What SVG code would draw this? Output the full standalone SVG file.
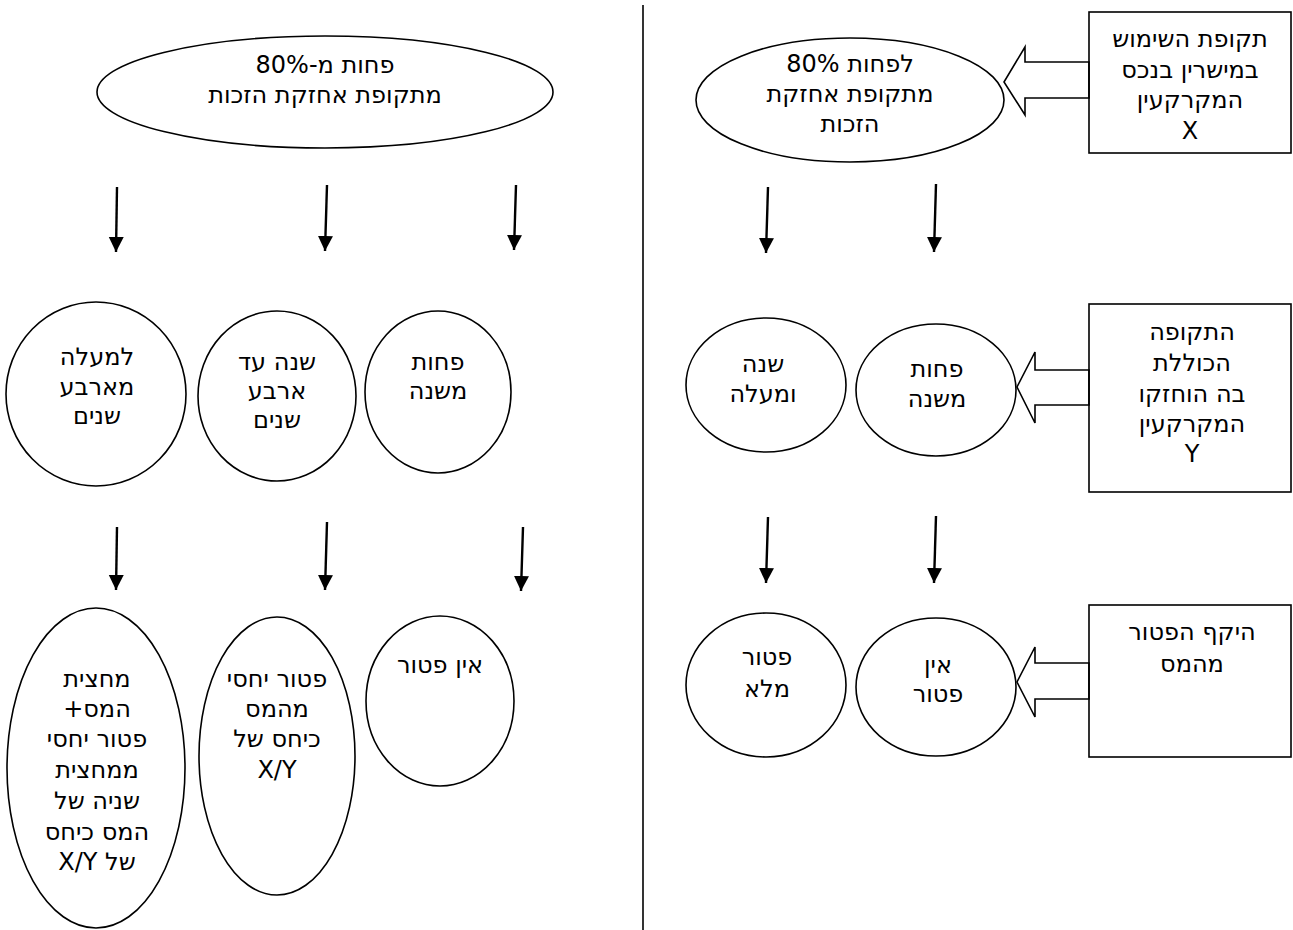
<svg xmlns="http://www.w3.org/2000/svg" width="1293" height="930" viewBox="0 0 1293 930">
<style>
.s{fill:none;stroke:#000;stroke-width:1.6}
.t{font-family:"DejaVu Sans","Noto Sans",sans-serif;font-size:24px;fill:#000;text-anchor:middle;direction:rtl;unicode-bidi:embed}
.a{fill:none;stroke:#000;stroke-width:2.4}
.b{fill:none;stroke:#000;stroke-width:1.6;stroke-linejoin:miter}
</style>
<defs>
<marker id="ah" markerUnits="userSpaceOnUse" markerWidth="16" markerHeight="16" refX="15" refY="7.5" orient="auto" viewBox="0 0 16 16">
<path d="M0,0 L15,7.5 L0,15 z" fill="#000"/>
</marker>
</defs>
<rect width="1293" height="930" fill="#fff"/>
<line x1="643" y1="5" x2="643" y2="930" stroke="#000" stroke-width="1.6"/>

<g id="connectors">
<path class="a" d="M117,187 L116,252" marker-end="url(#ah)"/>
<path class="a" d="M327,185 L325,251" marker-end="url(#ah)"/>
<path class="a" d="M516,185 L514,250" marker-end="url(#ah)"/>
<path class="a" d="M117,527 L116,590" marker-end="url(#ah)"/>
<path class="a" d="M327,522 L325,590" marker-end="url(#ah)"/>
<path class="a" d="M523,527 L521,591" marker-end="url(#ah)"/>
<path class="a" d="M768,187 L766,253" marker-end="url(#ah)"/>
<path class="a" d="M936,184 L934,252" marker-end="url(#ah)"/>
<path class="a" d="M768,517 L766,583" marker-end="url(#ah)"/>
<path class="a" d="M936,516 L934,583" marker-end="url(#ah)"/>
<polygon class="b" points="1089,62 1025,62 1025,47 1004,82 1025,115 1025,98 1089,98"/>
<polygon class="b" points="1089,370 1035,370 1035,352 1017,387 1035,423 1035,405 1089,405"/>
<polygon class="b" points="1089,663 1035,663 1035,647 1017,682 1035,717 1035,699 1089,699"/>
</g>

<g id="left-top">
<ellipse class="s" cx="325" cy="92" rx="228" ry="56"/>
<text class="t"><tspan x="325" y="73">פחות מ-80%</tspan><tspan x="325" y="103">מתקופת אחזקת הזכות</tspan></text>
</g>
<g id="left-mid-1">
<ellipse class="s" cx="96" cy="394" rx="90" ry="92"/>
<text class="t"><tspan x="97" y="365">למעלה</tspan><tspan x="97" y="395">מארבע</tspan><tspan x="97" y="424">שנים</tspan></text>
</g>
<g id="left-mid-2">
<ellipse class="s" cx="277" cy="396" rx="79" ry="85"/>
<text class="t"><tspan x="277" y="370">שנה עד</tspan><tspan x="277" y="399">ארבע</tspan><tspan x="277" y="428">שנים</tspan></text>
</g>
<g id="left-mid-3">
<ellipse class="s" cx="438" cy="392" rx="73" ry="81"/>
<text class="t"><tspan x="438" y="370">פחות</tspan><tspan x="438" y="399">משנה</tspan></text>
</g>
<g id="left-bot-1">
<ellipse class="s" cx="96" cy="768" rx="89" ry="160"/>
<text class="t"><tspan x="97" y="687">מחצית</tspan><tspan x="97" y="717">המס+</tspan><tspan x="97" y="747">פטור יחסי</tspan><tspan x="97" y="778">ממחצית</tspan><tspan x="97" y="809">שניה של</tspan><tspan x="97" y="840">המס כיחס</tspan><tspan x="97" y="870">של X/Y</tspan></text>
</g>
<g id="left-bot-2">
<ellipse class="s" cx="277" cy="756" rx="78" ry="139"/>
<text class="t"><tspan x="277" y="687">פטור יחסי</tspan><tspan x="277" y="717">מהמס</tspan><tspan x="277" y="747">כיחס של</tspan><tspan x="277" y="778">X/Y</tspan></text>
</g>
<g id="left-bot-3">
<ellipse class="s" cx="440" cy="701" rx="74" ry="85"/>
<text class="t"><tspan x="440" y="673">אין פטור</tspan></text>
</g>

<g id="right-top">
<ellipse class="s" cx="850" cy="100" rx="154" ry="62"/>
<text class="t"><tspan x="850" y="72">לפחות 80%</tspan><tspan x="850" y="102">מתקופת אחזקת</tspan><tspan x="850" y="132">הזכות</tspan></text>
</g>
<g id="box-x">
<rect class="s" x="1089" y="12" width="202" height="141"/>
<text class="t"><tspan x="1190" y="47">תקופת השימוש</tspan><tspan x="1190" y="78">במישרין בנכס</tspan><tspan x="1190" y="108">המקרקעין</tspan><tspan x="1190" y="139">X</tspan></text>
</g>
<g id="right-mid-1">
<ellipse class="s" cx="766" cy="385" rx="80" ry="67"/>
<text class="t"><tspan x="763" y="372">שנה</tspan><tspan x="763" y="402">ומעלה</tspan></text>
</g>
<g id="right-mid-2">
<ellipse class="s" cx="936" cy="390" rx="80" ry="66"/>
<text class="t"><tspan x="937" y="377">פחות</tspan><tspan x="937" y="407">משנה</tspan></text>
</g>
<g id="box-y">
<rect class="s" x="1089" y="304" width="202" height="188"/>
<text class="t"><tspan x="1192" y="340">התקופה</tspan><tspan x="1192" y="371">הכוללת</tspan><tspan x="1192" y="402">בה הוחזקו</tspan><tspan x="1192" y="432">המקרקעין</tspan><tspan x="1192" y="462">Y</tspan></text>
</g>
<g id="right-bot-1">
<ellipse class="s" cx="766" cy="685" rx="80" ry="72"/>
<text class="t"><tspan x="767" y="665">פטור</tspan><tspan x="767" y="697">מלא</tspan></text>
</g>
<g id="right-bot-2">
<ellipse class="s" cx="936" cy="687" rx="80" ry="69"/>
<text class="t"><tspan x="938" y="673">אין</tspan><tspan x="938" y="702">פטור</tspan></text>
</g>
<g id="box-scope">
<rect class="s" x="1089" y="605" width="202" height="152"/>
<text class="t"><tspan x="1192" y="640">היקף הפטור</tspan><tspan x="1192" y="672">מהמס</tspan></text>
</g>
</svg>
